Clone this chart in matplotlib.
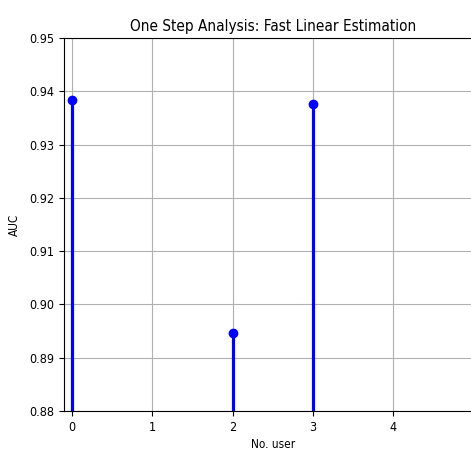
import matplotlib
matplotlib.use("Agg")
import matplotlib.pyplot as plt

# AUC per number of users (only evaluated settings)
n_users = [0, 2, 3]
auc = [0.9384, 0.8946, 0.9376]

x_ticks = [0, 1, 2, 3, 4]
y_ticks = [0.88, 0.89, 0.90, 0.91, 0.92, 0.93, 0.94, 0.95]

plt.rcParams["font.family"] = ["DejaVu Sans"]
plt.rcParams["font.stretch"] = "condensed"

fig = plt.figure(figsize=(4.71, 4.5), dpi=100)
# axes runs past the right edge of the canvas
ax = fig.add_axes([64 / 471, 39 / 450, 417.6 / 471, 373 / 450])

ax.vlines(n_users, 0, auc, colors="blue", linewidth=2.3, zorder=3)
ax.plot(n_users, auc, "o", color="blue", markersize=6, zorder=4)

ax.set_xlim(-0.1, 5.1)
ax.set_ylim(0.88, 0.95)
ax.set_xticks(x_ticks)
ax.set_yticks(y_ticks)
ax.set_yticklabels([f"{v:.2f}" for v in y_ticks])
ax.tick_params(labelsize=9, length=3.5, width=0.8)
ax.grid(True, color="#b0b0b0", linewidth=0.8)
ax.set_axisbelow(True)

ax.set_title("One Step Analysis: Fast Linear Estimation", fontsize=11, pad=5)
ax.set_xlabel("No. user", fontsize=8.5, labelpad=3)
ax.set_ylabel("AUC", fontsize=8.5, labelpad=6)

fig.savefig("out.png", dpi=100)
